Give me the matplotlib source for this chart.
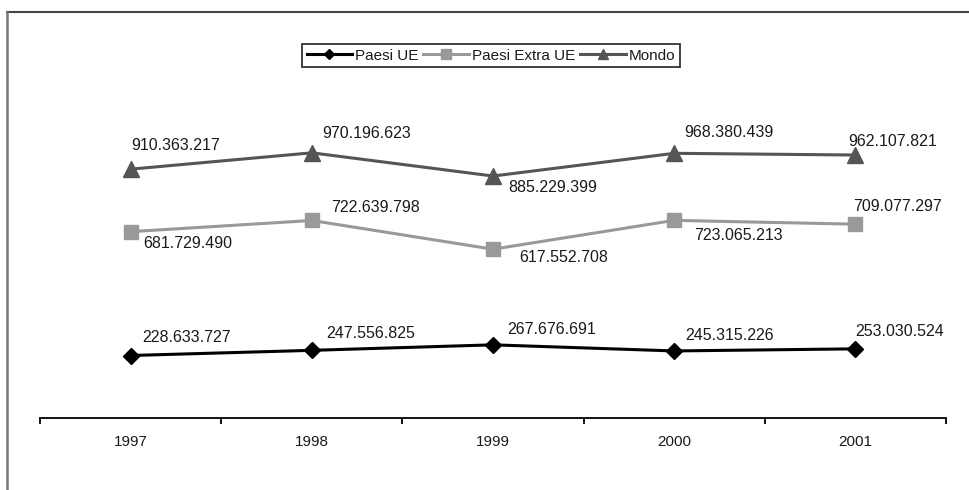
import matplotlib
matplotlib.use("Agg")
import matplotlib.pyplot as plt
from matplotlib.lines import Line2D
from matplotlib.ticker import FixedLocator, NullFormatter

plt.rcParams['font.family'] = ['Liberation Sans', 'DejaVu Sans']

years = ['1997', '1998', '1999', '2000', '2001']
paesi_ue = [228633727, 247556825, 267676691, 245315226, 253030524]
paesi_extra_ue = [681729490, 722639798, 617552708, 723065213, 709077297]
mondo = [910363217, 970196623, 885229399, 968380439, 962107821]

# label offsets from each point, in pixels (dx, dy)
off_ue = [(56, 18), (59, 17), (59, 15), (55, 15), (44, 17)]
off_extra = [(57, -12), (64, 13), (71, -8), (64, -15), (42, 18)]
off_mondo = [(45, 24), (55, 19), (60, -11), (55, 21), (37, 14)]


def fmt(v):
    return f"{v:,}".replace(",", ".")


W, H = 970, 490
fig = plt.figure(figsize=(W / 100, H / 100), dpi=100)
fig.patch.set_facecolor('white')
ax = fig.add_axes([40 / W, 1 - 418 / H, (946 - 40) / W, (418 - 90) / H])

x = list(range(len(years)))
series = [
    (paesi_ue, 'Paesi UE', '#000000', 'D', 8.5, off_ue),
    (paesi_extra_ue, 'Paesi Extra UE', '#999999', 's', 10, off_extra),
    (mondo, 'Mondo', '#555555', '^', 11, off_mondo),
]
for vals, name, col, mk, ms, offs in series:
    ax.plot(x, vals, color=col, lw=2.2, marker=mk, markersize=ms,
            markerfacecolor=col, markeredgecolor=col, label=name)
    for xi, v, (dx, dy) in zip(x, vals, offs):
        ax.annotate(fmt(v), (xi, v), xytext=(dx, dy), textcoords='offset pixels',
                    ha='center', va='center', fontsize=11.5, color='#1a1a1a')

ax.set_xlim(-0.5, len(years) - 0.5)
ax.set_ylim(0, 1.2e9)
for s in ['top', 'right', 'left']:
    ax.spines[s].set_visible(False)
ax.spines['bottom'].set_linewidth(1.3)
ax.set_yticks([])

ax.xaxis.set_major_locator(FixedLocator([i - 0.5 for i in range(len(years) + 1)]))
ax.xaxis.set_major_formatter(NullFormatter())
ax.xaxis.set_minor_locator(FixedLocator(x))
ax.set_xticklabels(years, minor=True, fontsize=11, color='#1a1a1a')
ax.tick_params(axis='x', which='major', direction='out', length=4, width=1.3, color='black')
ax.tick_params(axis='x', which='minor', length=0, pad=12)

leg = fig.legend(loc='center', bbox_to_anchor=(491 / W, 1 - 55.5 / H), ncol=3,
                 frameon=True, fancybox=False, fontsize=11, handlelength=3.0,
                 handletextpad=0.2, columnspacing=0.3, borderpad=0.3,
                 markerscale=0.65, borderaxespad=0)
leg.get_frame().set_edgecolor('black')
leg.get_frame().set_linewidth(1.3)
for t in leg.get_texts():
    t.set_color('#1a1a1a')

# outer frame lines
fig.add_artist(Line2D([7 / W, 1], [1 - 12 / H, 1 - 12 / H], transform=fig.transFigure,
                      color='#444444', lw=1.5))
fig.add_artist(Line2D([7 / W, 7 / W], [0, 1 - 12 / H], transform=fig.transFigure,
                      color='#777777', lw=1.8))

fig.savefig('out.png', dpi=100, facecolor='white')
